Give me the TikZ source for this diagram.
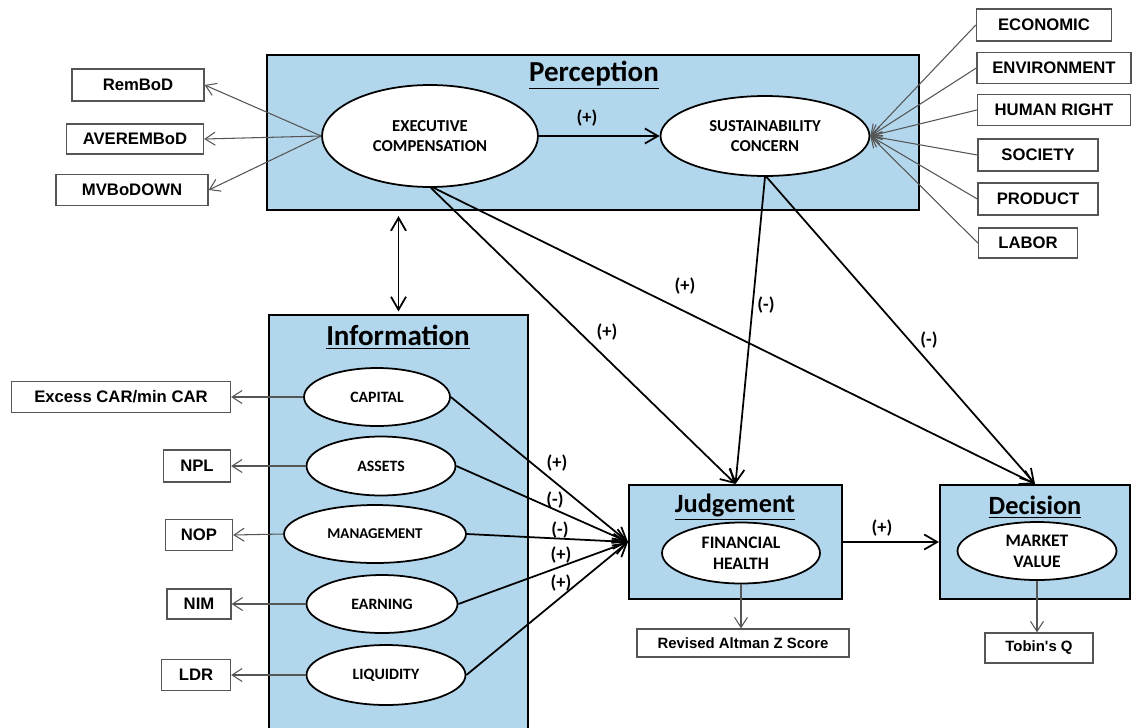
\documentclass[tikz,border=0pt]{standalone}
\usepackage{fontspec}
\setmainfont{Carlito}
\newfontfamily\arialfont{Liberation Sans}
\usepackage{tikz}
\usetikzlibrary{arrows.meta}
\usetikzlibrary{shapes,shapes.geometric}
\definecolor{panelblue}{RGB}{178,214,236}
\definecolor{thingray}{RGB}{85,85,85}
\tikzset{>={Straight Barb[length=2.6mm,width=3mm]}}
\tikzset{
  panel/.style={draw, line width=1.2pt, fill=panelblue, rectangle, inner sep=0pt},
  paneltitle/.style={inner sep=0pt, font=\bfseries\fontsize{16.5pt}{18pt}\selectfont},
  construct/.style={draw, ellipse, line width=1pt, fill=white, inner sep=0pt, align=center,
    font=\bfseries\fontsize{9.5pt}{11pt}\selectfont},
  indicator/.style={draw=thingray, line width=0.8pt, fill=white, rectangle, inner sep=0pt,
    font=\arialfont\bfseries\fontsize{9.5pt}{11pt}\selectfont},
  link/.style={->, line width=1pt},
  measure/.style={-{Straight Barb[length=2mm,width=2.6mm]}, draw=thingray, line width=0.6pt},
  sign/.style={inner sep=0pt, font=\bfseries\fontsize{10.5pt}{12pt}\selectfont}
}

\begin{document}
\begin{tikzpicture}[x=0.02cm, y=-0.02cm]
        \fill[white] (0,0) rectangle (1132,727);
        \useasboundingbox (0,0) rectangle (1132,727);

        % Panels
        \node[panel, minimum width=13.04cm, minimum height=3.1cm] (perception) at (593,132.5) {};
        \node[panel, minimum width=5.18cm, minimum height=8.5cm] (information) at (398.5,527.5) {};
        \node[panel, minimum width=4.26cm, minimum height=2.28cm] (judgement) at (735.5,542) {};
        \node[panel, minimum width=3.8cm, minimum height=2.28cm] (decision) at (1035,542) {};
        \node[paneltitle] (perceptiontitle) at (594,75) {\underline{Perception}};
        \node[paneltitle] (informationtitle) at (398,337) {\underline{Information}};
        \node[paneltitle, font=\bfseries\fontsize{15pt}{17pt}\selectfont] (judgementtitle) at (735,507) {\underline{Judgement}};
        \node[paneltitle, font=\bfseries\fontsize{15pt}{17pt}\selectfont] (decisiontitle) at (1035,507) {\underline{Decision}};

        % Constructs
        \node[construct, minimum width=4.32cm, minimum height=2.04cm] (execcomp) at (430,136) {EXECUTIVE\\COMPENSATION};
        \node[construct, minimum width=4.18cm, minimum height=1.6cm] (sustain) at (765,136) {SUSTAINABILITY\\CONCERN};
        \node[construct, minimum width=2.92cm, minimum height=1.16cm, font=\bfseries\fontsize{9pt}{11pt}\selectfont] (capital) at (377,397) {CAPITAL};
        \node[construct, minimum width=2.98cm, minimum height=1.18cm, font=\bfseries\fontsize{9pt}{11pt}\selectfont] (assets) at (381,466) {ASSETS};
        \node[construct, minimum width=3.64cm, minimum height=1.16cm, font=\bfseries\fontsize{8.5pt}{11pt}\selectfont] (management) at (375,534) {MANAGEMENT};
        \node[construct, minimum width=3.02cm, minimum height=1.16cm, font=\bfseries\fontsize{9pt}{11pt}\selectfont] (earning) at (382,604) {EARNING};
        \node[construct, minimum width=3.18cm, minimum height=1.2cm, font=\bfseries\fontsize{9pt}{11pt}\selectfont] (liquidity) at (386,675) {LIQUIDITY};
        \node[construct, minimum width=3.16cm, minimum height=1.22cm, font=\bfseries\fontsize{10pt}{12pt}\selectfont] (finhealth) at (741,553) {FINANCIAL\\HEALTH};
        \node[construct, minimum width=3.18cm, minimum height=1.16cm, font=\bfseries\fontsize{10pt}{12pt}\selectfont] (marketvalue) at (1037,551) {MARKET\\VALUE};

        % Indicators
        \node[indicator, minimum width=2.64cm, minimum height=0.64cm] (rembod) at (138,85) {RemBoD};
        \node[indicator, minimum width=2.74cm, minimum height=0.6cm] (averembod) at (135,139) {AVEREMBoD};
        \node[indicator, minimum width=3.04cm, minimum height=0.62cm] (mvbodown) at (132,190) {MVBoDOWN};
        \node[indicator, minimum width=2.7cm, minimum height=0.64cm] (economic) at (1044,25) {ECONOMIC};
        \node[indicator, minimum width=3.08cm, minimum height=0.62cm] (environment) at (1054,68) {ENVIRONMENT};
        \node[indicator, minimum width=3.06cm, minimum height=0.62cm] (humanright) at (1054,110) {HUMAN RIGHT};
        \node[indicator, minimum width=2.4cm, minimum height=0.64cm] (society) at (1038,155) {SOCIETY};
        \node[indicator, minimum width=2.4cm, minimum height=0.64cm] (product) at (1038,199) {PRODUCT};
        \node[indicator, minimum width=1.98cm, minimum height=0.6cm] (labor) at (1028,243) {LABOR};
        \node[indicator, minimum width=4.38cm, minimum height=0.62cm] (excesscar) at (121,397) {Excess CAR/min CAR};
        \node[indicator, minimum width=1.34cm, minimum height=0.64cm] (npl) at (197,466) {NPL};
        \node[indicator, minimum width=1.34cm, minimum height=0.62cm] (nop) at (199,535) {NOP};
        \node[indicator, minimum width=1.28cm, minimum height=0.6cm] (nim) at (199,604) {NIM};
        \node[indicator, minimum width=1.38cm, minimum height=0.62cm] (ldr) at (196,675) {LDR};
        \node[indicator, minimum width=4.24cm, minimum height=0.56cm, font=\arialfont\bfseries\fontsize{8.5pt}{10pt}\selectfont] (altman) at (743,643) {Revised Altman Z Score};
        \node[indicator, minimum width=2.16cm, minimum height=0.6cm, font=\arialfont\bfseries\fontsize{8.5pt}{10pt}\selectfont] (tobin) at (1039,648) {Tobin's Q};

        % Measurement arrows
        \foreach \ind in {rembod,averembod,mvbodown}
          \draw[measure] (execcomp.west) -- (\ind.east);
        \foreach \ind in {economic,environment,humanright,society,product,labor}
          \draw[measure] (\ind.west) -- (sustain.east);
        \foreach \con/\ind in {capital/excesscar,assets/npl,management/nop,earning/nim,liquidity/ldr}
          \draw[measure] (\con.west) -- (\ind.east);
        \draw[measure] (finhealth.south) -- (finhealth.south |- altman.north);
        \draw[measure] (marketvalue.south) -- (marketvalue.south |- tobin.north);

        % Structural paths
        \draw[link] (execcomp.east) -- (sustain.west);
        \draw[link, <->, shorten <=1mm, shorten >=0.5mm] (information.north |- perception.south) -- (information.north);
        \draw[link] (execcomp.-89) -- (judgement.north);
        \draw[link] (execcomp.-86) -- (decision.north);
        \draw[link] (sustain.south) -- (judgement.north);
        \draw[link] (sustain.-88) -- (decision.north);
        \foreach \con in {capital,assets,management,earning,liquidity}
          \draw[link] (\con.east) -- (judgement.west);
        \draw[link] (judgement.east |- decision.west) -- (decision.west);

        % Signs
        \node[sign] (s1) at (587,118) {(+)};
        \node[sign] (s2) at (607,332) {(+)};
        \node[sign] (s3) at (685,286) {(+)};
        \node[sign] (s4) at (766,305) {(-)};
        \node[sign] (s5) at (929,340) {(-)};
        \node[sign] (s6) at (557,463) {(+)};
        \node[sign] (s7) at (555,500) {(-)};
        \node[sign] (s8) at (560,530) {(-)};
        \node[sign] (s9) at (561,555) {(+)};
        \node[sign] (s10) at (561,583) {(+)};
        \node[sign] (s11) at (882,528) {(+)};
      \end{tikzpicture}
\end{document}
